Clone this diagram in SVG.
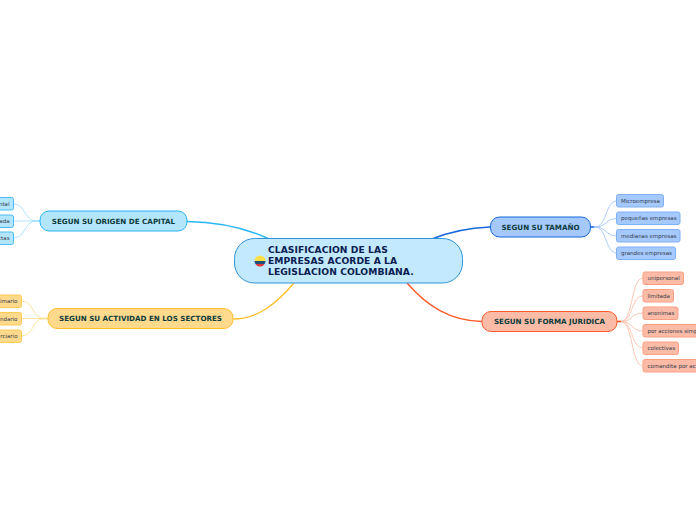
<svg xmlns="http://www.w3.org/2000/svg" width="696" height="520" viewBox="0 0 696 520">
<style>
text{font-family:"DejaVu Sans",Verdana,sans-serif}
.n{stroke-width:1}
.main{font-size:9.2px;font-weight:700;fill:#0a2050;letter-spacing:.05px}
.sub{font-size:7.15px;font-weight:700;fill:#0d3c3c;text-anchor:middle}
.leaf{font-size:5.5px;fill:#333c4a}
.end{text-anchor:end}
.b{stroke:#29b6f6}.bl{stroke:#a6e0fb}
.y{stroke:#ffc02e}.yl{stroke:#ffe09a}
.d{stroke:#1667d9}.dl{stroke:#a5c6fa}
.o{stroke:#ff5a2a}.ol{stroke:#fdc0ab}
.fb{fill:#b3e5fc;stroke:#4dbcf2}
.fy{fill:#ffd98c;stroke:#ffcb57}
.fd{fill:#a5c9fd;stroke:#7fb0f5}
.fo{fill:#fbbba6;stroke:#fb9f84}
</style>
<g id="connectors">
<g stroke-width="1.4" fill="none">
<path class="b" d="M187 221.500C220 222 245 228 268 238.500"/>
<path class="y" d="M233 319C258 319 277 303 294 283"/>
<path class="d" d="M490 227C467 228 449 232 432 239"/>
<path class="o" d="M482 321.500C450 321 427 306 407 283"/>
</g>
<g stroke-width="1.8" fill="none">
<path class="bl" d="M33 221H40"/>
<path class="yl" d="M40 318.500H48"/>
<path class="dl" d="M590.500 227H597"/>
<path class="ol" d="M617 321.500H624"/>
<path class="o" d="M617 321.500H621" stroke-width="1.4"/>
<path class="d" d="M590.500 227H594" stroke-width="1.4"/>
</g>
<g fill="none" stroke-width=".9">
<path class="bl" d="M36 221C24 221 26 204 13.500 204"/>
<path class="bl" d="M36 221H13.500"/>
<path class="bl" d="M36 221C24 221 26 238 13.500 238"/>
<path class="yl" d="M44 318.500C32 318.500 34 301 21.500 301"/>
<path class="yl" d="M44 318.500H21.500"/>
<path class="yl" d="M44 318.500C32 318.500 34 336 21.500 336"/>
<path class="dl" d="M595 227C607 227 605 201 617 201"/>
<path class="dl" d="M595 227C607 227 605 218.500 617 218.500"/>
<path class="dl" d="M595 227C607 227 605 236 617 236"/>
<path class="dl" d="M595 227C607 227 605 253 617 253"/>
<path class="ol" d="M621 321.500C633 321.500 631 278 643 278"/>
<path class="ol" d="M621 321.500C633 321.500 631 296 643 296"/>
<path class="ol" d="M621 321.500C633 321.500 631 313 643 313"/>
<path class="ol" d="M621 321.500C633 321.500 631 331 643 331"/>
<path class="ol" d="M621 321.500C633 321.500 631 348 643 348"/>
<path class="ol" d="M621 321.500C633 321.500 631 366 643 366"/>
</g>
</g>
<g id="center">
<rect x="234.500" y="238.500" width="228" height="44.500" rx="20" fill="#c2e9fd" stroke="#2f93d6"/>
<clipPath id="flag"><circle cx="260" cy="261" r="5.500"/></clipPath>
<g clip-path="url(#flag)">
<rect x="254" y="255" width="12" height="6" fill="#fde047"/>
<rect x="254" y="261" width="12" height="3" fill="#1f4e79"/>
<rect x="254" y="264" width="12" height="3" fill="#e53935"/>
</g>
<text class="main" x="268" y="253">CLASIFICACION DE LAS</text>
<text class="main" x="268" y="264">EMPRESAS ACORDE A LA</text>
<text class="main" x="268" y="275">LEGISLACION COLOMBIANA.</text>
</g>
<g id="origen">
<rect x="40" y="211" width="147" height="20" rx="9" fill="#b3e5fc" stroke="#29b6f6"/>
<text class="sub" x="113.500" y="223.700">SEGUN SU ORIGEN DE CAPITAL</text>
</g>
<g id="actividad">
<rect x="48" y="308.500" width="185" height="20" rx="9" fill="#ffd98c" stroke="#ffc02e"/>
<text class="sub" x="140.500" y="321.200">SEGUN SU ACTIVIDAD EN LOS SECTORES</text>
</g>
<g id="tamano">
<rect x="490.500" y="217" width="100" height="20" rx="9" fill="#a5c9fd" stroke="#1667d9"/>
<text class="sub" x="540.500" y="229.700">SEGUN SU TAMAÑO</text>
</g>
<g id="forma">
<rect x="482" y="311.500" width="135" height="20" rx="9" fill="#fbbba6" stroke="#ff5a2a"/>
<text class="sub" x="549.500" y="324.200">SEGUN SU FORMA JURIDICA</text>
</g>
<g id="o1"><rect class="n fb" x="-20" y="197.500" width="33.500" height="12.500" rx="2"/><text class="leaf end" x="9.500" y="205.700">ntal</text></g>
<g id="o2"><rect class="n fb" x="-20" y="215" width="33.500" height="12.500" rx="2"/><text class="leaf end" x="9.500" y="223.200">ada</text></g>
<g id="o3"><rect class="n fb" x="-20" y="232" width="33.500" height="12.500" rx="2"/><text class="leaf end" x="9.500" y="240.200">ctas</text></g>
<g id="a1"><rect class="n fy" x="-20" y="295" width="41.500" height="12.500" rx="2"/><text class="leaf end" x="17.500" y="303.200">imario</text></g>
<g id="a2"><rect class="n fy" x="-20" y="312.500" width="41.500" height="12.500" rx="2"/><text class="leaf end" x="17.500" y="320.700">ndario</text></g>
<g id="a3"><rect class="n fy" x="-20" y="330" width="41.500" height="12.500" rx="2"/><text class="leaf end" x="17.500" y="338.200">rciario</text></g>
<g id="t1"><rect class="n fd" x="616.500" y="194.500" width="47" height="12.500" rx="2"/><text class="leaf" x="621" y="202.700">Microempresa</text></g>
<g id="t2"><rect class="n fd" x="616.500" y="212" width="63.500" height="12.500" rx="2"/><text class="leaf" x="621" y="220.200">pequeñas empresas</text></g>
<g id="t3"><rect class="n fd" x="616.500" y="229.500" width="63.500" height="12.500" rx="2"/><text class="leaf" x="621" y="237.700">medianas empresas</text></g>
<g id="t4"><rect class="n fd" x="616.500" y="247" width="59" height="12.500" rx="2"/><text class="leaf" x="621" y="255.200">grandes empresas</text></g>
<g id="f1"><rect class="n fo" x="643" y="272" width="40.500" height="12.500" rx="2"/><text class="leaf" x="647.500" y="280.200">unipersonal</text></g>
<g id="f2"><rect class="n fo" x="643" y="289.500" width="30.500" height="12.500" rx="2"/><text class="leaf" x="647.500" y="297.700">limitada</text></g>
<g id="f3"><rect class="n fo" x="643" y="307" width="35" height="12.500" rx="2"/><text class="leaf" x="647.500" y="315.200">anonimas</text></g>
<g id="f4"><rect class="n fo" x="643" y="324.500" width="70" height="12.500" rx="2"/><text class="leaf" x="647.500" y="332.700">por acciones simp</text></g>
<g id="f5"><rect class="n fo" x="643" y="342" width="35.500" height="12.500" rx="2"/><text class="leaf" x="647.500" y="350.200">colectivas</text></g>
<g id="f6"><rect class="n fo" x="643" y="359.500" width="70" height="12.500" rx="2"/><text class="leaf" x="647.500" y="367.700">comandita por ac</text></g>
</svg>
